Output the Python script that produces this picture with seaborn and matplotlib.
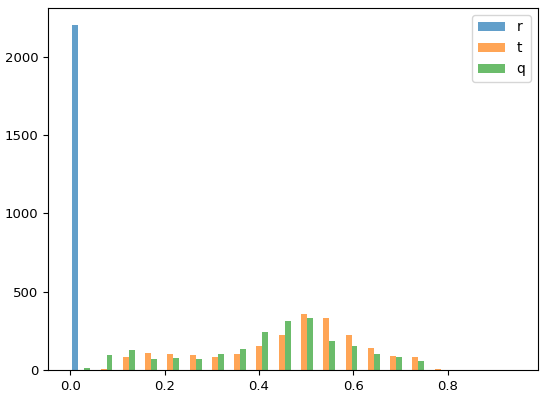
import numpy as np
import pandas as pd
import matplotlib
matplotlib.use("Agg")
import matplotlib.pyplot as plt
import seaborn as sns

# histogram counts per bin (20 bins from 0 to 0.944)
bin_lo = 0.0
bin_hi = 0.944
n_bins = 20
series = ["r", "t", "q"]
r_counts = [2200, 0, 0, 0, 0, 0, 0, 0, 0, 0, 0, 0, 0, 0, 0, 0, 0, 0, 0, 0]
t_counts = [0, 5, 81, 108, 102, 93, 85, 100, 151, 221, 355, 331, 221, 138, 89, 85, 6, 0, 0, 0]
q_counts = [13, 95, 130, 72, 76, 68, 102, 136, 244, 314, 329, 187, 155, 100, 85, 60, 0, 0, 0, 0]
colors = ["tab:blue", "tab:orange", "tab:green"]

plt.rcParams["font.size"] = 10
plt.rcParams["xtick.labelsize"] = 9.5
plt.rcParams["ytick.labelsize"] = 9.5

edges = np.linspace(bin_lo, bin_hi, n_bins + 1)
bw = edges[1] - edges[0]
centers = (edges[:-1] + edges[1:]) / 2

fig, ax = plt.subplots(figsize=(5.5, 3.97), dpi=100)
fig.subplots_adjust(left=0.087, right=0.978, top=0.98, bottom=0.068)

# side by side bars like plt.hist with several datasets
bar_w = 0.8 * bw / len(series)
for i, (name, counts) in enumerate(zip(series, [r_counts, t_counts, q_counts])):
    off = (i - 1) * bar_w
    df = pd.DataFrame({"x": centers + off, "w": counts})
    # bins as a list: seaborn compares bins to "auto" when weights are given
    sns.histplot(data=df, x="x", weights="w", bins=list(edges + off),
                 shrink=0.8 / len(series), color=colors[i], alpha=0.7,
                 linewidth=0, label=name, ax=ax)

span = bin_hi - bin_lo
ax.set_xlim(bin_lo - 0.05 * span, bin_hi + 0.05 * span)
ax.set_xlabel("")
ax.set_ylabel("")
ax.legend(loc="upper right", fontsize=10)

fig.savefig("out.png", dpi=100)
